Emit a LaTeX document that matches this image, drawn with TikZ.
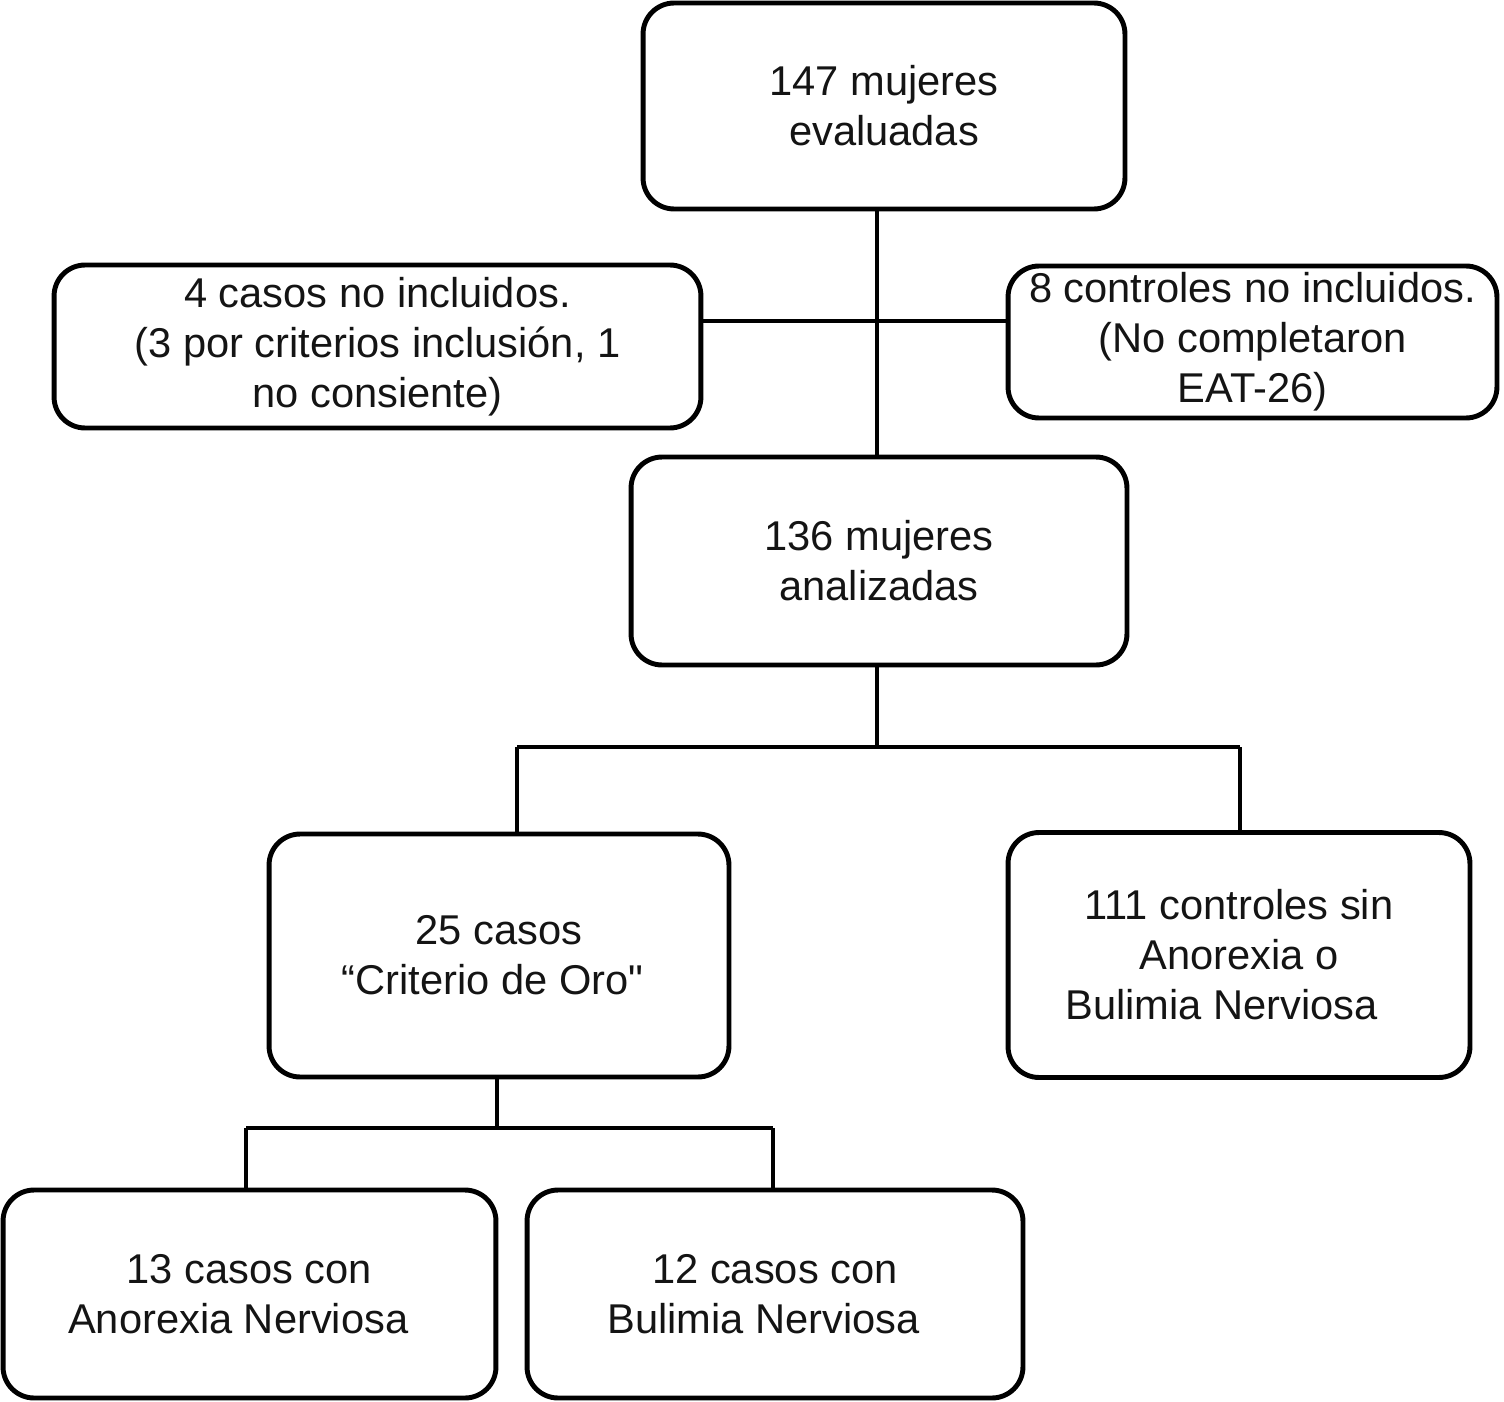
\documentclass[tikz,border=0pt]{standalone}
\usepackage{fontspec}
\setmainfont{Liberation Sans}[Ligatures=TeXOff]
\begin{document}
\begin{tikzpicture}[x=0.02cm,y=-0.02cm,
  box/.style={draw=black,line width=2.8pt,rounded corners=0.62cm,align=center,
    font=\fontsize{23.7}{28.45}\selectfont,text=black!92,inner sep=0pt},
  conn/.style={draw=black,line width=2.8pt}]
\useasboundingbox (0,0) rectangle (1504,1402);
\node[box,minimum width=9.64cm,minimum height=4.12cm] (top) at (884,106) {147 mujeres\\evaluadas};
\node[box,minimum width=12.94cm,minimum height=3.26cm] (excl) at (377.5,346.5) {4 casos no incluidos.\\(3 por criterios inclusión, 1\\no consiente)};
\node[box,minimum width=9.78cm,minimum height=3.04cm] (exclc) at (1252.5,342) {8 controles no incluidos.\\(No completaron\\EAT-26)};
\node[box,minimum width=9.92cm,minimum height=4.16cm] (mid) at (879,561) {136 mujeres\\analizadas};
\node[box,minimum width=9.2cm,minimum height=4.86cm] (cases) at (499,955.5) {25 casos\\\hspace*{-0.25cm}“Criterio de Oro"};
\node[box,minimum width=9.24cm,minimum height=4.9cm] (ctrl) at (1239,955) {111 controles sin\\Anorexia o\\\hspace*{-0.7cm}Bulimia Nerviosa};
\node[box,minimum width=9.86cm,minimum height=4.16cm] (an) at (249.5,1294) {13 casos con\\\hspace*{-0.45cm}Anorexia Nerviosa};
\node[box,minimum width=9.92cm,minimum height=4.16cm] (bn) at (775,1294) {12 casos con\\\hspace*{-0.45cm}Bulimia Nerviosa};
\coordinate (c1) at (877,0);
\coordinate (h1) at (0,321);
\coordinate (j1) at (877,747);
\coordinate (ja) at (517,747);
\coordinate (jb) at (1240,747);
\coordinate (c2) at (497,1128);
\coordinate (ka) at (246,1128);
\coordinate (kb) at (773,1128);
\draw[conn] (top.south -| c1) -- (mid.north -| c1);
\draw[conn] (excl.east |- h1) -- (exclc.west |- h1);
\draw[conn] (mid.south -| j1) -- (j1);
\draw[conn] (ja) -- (jb);
\draw[conn] (ja) -- (cases.north -| ja);
\draw[conn] (jb) -- (ctrl.north -| jb);
\draw[conn] (cases.south -| c2) -- (c2);
\draw[conn] (ka) -- (kb);
\draw[conn] (ka) -- (an.north -| ka);
\draw[conn] (kb) -- (bn.north -| kb);
\end{tikzpicture}
\end{document}
